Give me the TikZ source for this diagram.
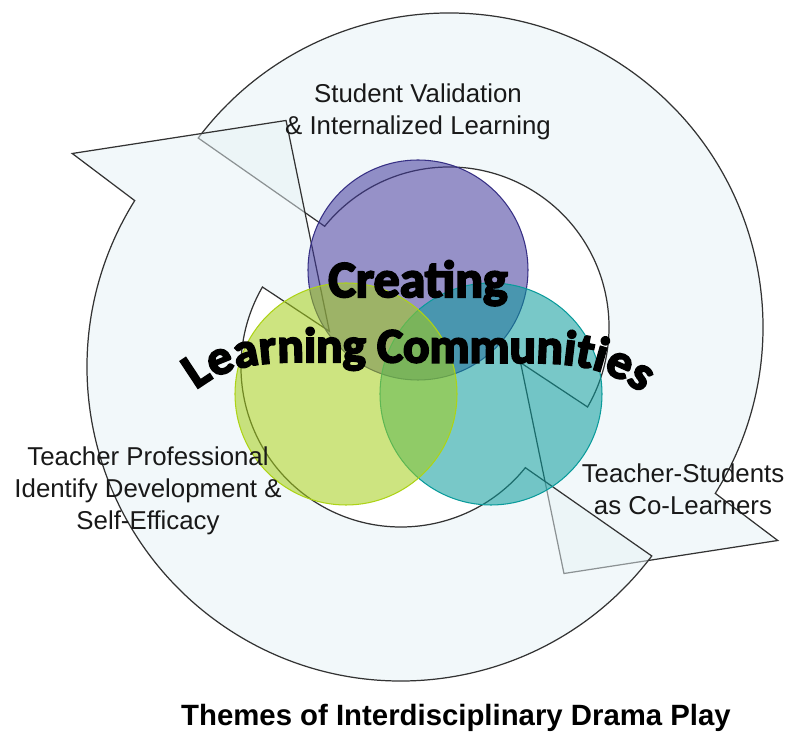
\documentclass[tikz,border=0pt]{standalone}
\usepackage{fontspec}
\setmainfont{Liberation Sans}
\newfontfamily\wordart[FakeBold=4]{Carlito Bold}
\usepackage{tikz}
\usetikzlibrary{decorations.text}

\definecolor{ringfill}{RGB}{230,242,245}
\definecolor{vennpurple}{RGB}{64,55,155}
\definecolor{venngreen}{RGB}{164,206,24}
\definecolor{vennteal}{RGB}{10,155,155}

\begin{document}
\begin{tikzpicture}[x=0.2mm, y=0.2mm,
    ringarrow/.style={draw=black!80, line width=.7pt, fill=ringfill, fill opacity=.5, line join=miter},
    venn/.style={line width=.6pt, fill opacity=.55},
    theme/.style={align=center, text=black!90, font=\fontsize{14.7}{18.2}\selectfont},
    bigword/.style={font=\wordart\fontsize{29.5}{31}\selectfont}]
    \useasboundingbox (0, 0) rectangle (790, 734); %图像大小 790x734
    %两段环形箭头, 第二段为第一段旋转180度
    \begin{scope}[shift={(449, 407)}]
        \draw[ringarrow] (143:314) arc[start angle=143, end angle=-32, radius=314] -- (-33:392) -- (-65:272) -- (-26.5:80) -- (-30:160) arc[start angle=-30, end angle=141, radius=160] -- cycle;
    \end{scope}
    \begin{scope}[shift={(401, 367)}, rotate=180]
        \draw[ringarrow] (143:314) arc[start angle=143, end angle=-32, radius=314] -- (-33:392) -- (-65:272) -- (-26.5:80) -- (-30:160) arc[start angle=-30, end angle=141, radius=160] -- cycle;
    \end{scope}
    %三个圆, 顺序: 紫 -> 青 -> 绿
    \draw[venn, draw=vennpurple!85!black, fill=vennpurple] (418, 464) circle[radius=110];
    \draw[venn, draw=vennteal, fill=vennteal] (491, 340) circle[radius=111];
    \draw[venn, draw=venngreen!90!yellow, fill=venngreen] (346, 340) circle[radius=111];
    %文字
    \node[theme] (validation) at (418, 622) {Student Validation\\\& Internalized Learning};
    \node[theme] (identity) at (148, 243) {Teacher Professional\\Identify Development \&\\Self-Efficacy};
    \node[theme] (colearners) at (683, 245) {Teacher-Students\\as Co-Learners};
    \node[bigword, anchor=base] (creating) at (418, 437) {Creating};
    \path[decorate, decoration={text along path, text align=center,
        text={|\wordart\fontsize{28}{30}\selectfont|Learning Communities}}]
        (188, 337) .. controls (216, 364) and (250, 372) .. (300, 372) -- (540, 371) .. controls (586, 370) and (618, 362) .. (650, 334);
    \node[font=\bfseries\fontsize{16.7}{20}\selectfont] (title) at (456, 16) {Themes of Interdisciplinary Drama Play};
\end{tikzpicture}
\end{document}
